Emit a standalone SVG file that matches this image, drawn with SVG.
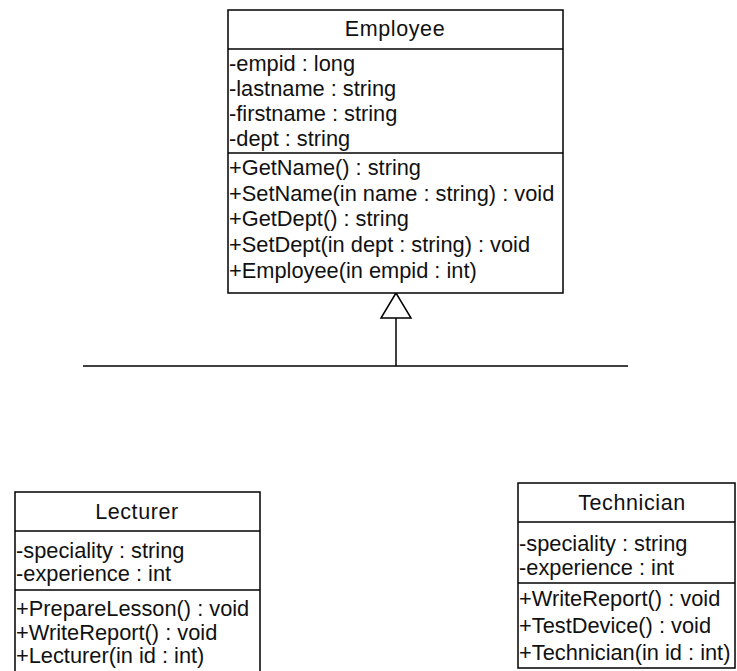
<svg xmlns="http://www.w3.org/2000/svg" width="737" height="671" viewBox="0 0 737 671">
<style>
.box{fill:#fff;stroke:#000;stroke-width:1.5}
.ln{stroke:#000;stroke-width:1.5;fill:none}
.t{font-family:"Liberation Sans",Arial,sans-serif;font-size:21.8px;fill:#111}
.h{font-family:"Liberation Sans",Arial,sans-serif;font-size:21.5px;fill:#111;letter-spacing:0.6px;text-anchor:middle}
</style>
<rect width="737" height="671" fill="#fff"/>
<g id="connectors">
<polyline class="ln" points="83,366 628,366"/>
<line class="ln" x1="396" y1="366" x2="396" y2="318"/>
<polygon class="box" points="396,293 381,318 411,318"/>
</g>
<g id="employee">
<rect class="box" x="228" y="10" width="335" height="283"/>
<line class="ln" x1="228" y1="49" x2="563" y2="49"/>
<line class="ln" x1="228" y1="153" x2="563" y2="153"/>
<text class="h" x="395" y="36">Employee</text>
<text class="t" x="229" y="71">-empid : long</text>
<text class="t" x="229" y="96">-lastname : string</text>
<text class="t" x="229" y="121">-firstname : string</text>
<text class="t" x="229" y="146">-dept : string</text>
<text class="t" x="229" y="175">+GetName() : string</text>
<text class="t" x="229" y="201">+SetName(in name : string) : void</text>
<text class="t" x="229" y="226">+GetDept() : string</text>
<text class="t" x="229" y="252">+SetDept(in dept : string) : void</text>
<text class="t" x="229" y="278">+Employee(in empid : int)</text>
</g>
<g id="lecturer">
<rect class="box" x="15" y="492" width="245" height="185"/>
<line class="ln" x1="15" y1="531" x2="260" y2="531"/>
<line class="ln" x1="15" y1="590" x2="260" y2="590"/>
<text class="h" x="137" y="519">Lecturer</text>
<text class="t" x="16" y="558">-speciality : string</text>
<text class="t" x="16" y="581">-experience : int</text>
<text class="t" x="16" y="616">+PrepareLesson() : void</text>
<text class="t" x="16" y="640">+WriteReport() : void</text>
<text class="t" x="16" y="663">+Lecturer(in id : int)</text>
</g>
<g id="technician">
<rect class="box" x="518" y="483" width="217" height="185"/>
<line class="ln" x1="518" y1="522" x2="735" y2="522"/>
<line class="ln" x1="518" y1="583" x2="735" y2="583"/>
<text class="h" x="632" y="510">Technician</text>
<text class="t" x="519" y="551">-speciality : string</text>
<text class="t" x="519" y="575">-experience : int</text>
<text class="t" x="519" y="606">+WriteReport() : void</text>
<text class="t" x="519" y="633">+TestDevice() : void</text>
<text class="t" x="519" y="660">+Technician(in id : int)</text>
</g>
</svg>
